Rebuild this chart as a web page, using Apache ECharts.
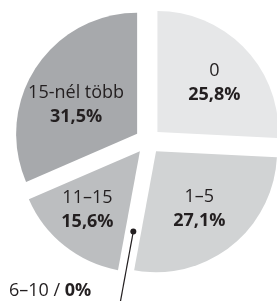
<!DOCTYPE html>
<html>
<head>
<meta charset="utf-8">
<script src="https://cdn.jsdelivr.net/npm/echarts@6/dist/echarts.min.js"></script>
<style>
html, body { margin: 0; padding: 0; background: #fff; }
#chart { width: 277px; height: 301px; }
</style>
</head>
<body>
<div id="chart"></div>
<script>
const categories = ['0', '1–5', '6–10', '11–15', '15-nél több'];
const shares = [25.8, 27.1, 0, 15.6, 31.5];
const sliceColors = ['#e6e7e8', '#d1d3d4', '#c8c9cb', '#bcbec0', '#a7a9ac'];

const center = [148, 141];
const pieRadius = 121;
const offset = 13;
const font = '"Open Sans", "Noto Sans", sans-serif';
const ink = '#231f20';
// small hand nudges of the inside labels (px), by slice
const labelNudge = [[4, 1], [-2, 0], [0, 0], [-7, 2], [0, 11]];

const fmt = v => (v === 0 ? '0' : v.toFixed(1).replace('.', ',')) + '%';

const chartDom = document.getElementById('chart');
const myChart = echarts.init(chartDom);

// the empty slice gets a leader line instead of an inside label
const zeroIdx = shares.findIndex(v => v === 0);
const total = shares.reduce((a, b) => a + b, 0);
const midShare = shares.slice(0, zeroIdx).reduce((a, b) => a + b, 0) + shares[zeroIdx] / 2;
const ang = midShare / total * 2 * Math.PI;
const px = r => center[0] + 2 + r * Math.sin(ang);
const py = r => center[1] - r * Math.cos(ang);

const textRich = {
  n: { fontFamily: font, fontSize: 18, lineHeight: 24, color: ink, fontWeight: 'normal' },
  v: { fontFamily: font, fontSize: 18, lineHeight: 24, color: ink, fontWeight: 'bold' }
};

const option = {
  animation: false,
  title: {
    text: '{n|' + categories[zeroIdx] + ' / }{v|' + fmt(shares[zeroIdx]) + '}',
    left: 9,
    top: 279,
    padding: 0,
    textStyle: { fontWeight: 'normal', rich: textRich }
  },
  graphic: [
    {
      type: 'line',
      shape: { x1: px(92), y1: py(92), x2: px(185), y2: py(185) },
      style: { stroke: ink, lineWidth: 1.2 }
    },
    {
      type: 'circle',
      shape: { cx: px(92), cy: py(92), r: 3 },
      style: { fill: ink }
    }
  ],
  series: [
    {
      type: 'pie',
      center: center,
      radius: pieRadius,
      startAngle: 90,
      clockwise: true,
      selectedMode: 'multiple',
      selectedOffset: offset,
      silent: true,
      label: { show: false },
      labelLine: { show: false },
      emphasis: { disabled: true },
      data: categories.map((name, i) => ({
        name: name,
        value: shares[i],
        selected: true,
        itemStyle: { color: sliceColors[i] },
        select: { itemStyle: { color: sliceColors[i] } }
      }))
    },
    {
      // label carrier: same slices, transparent, a bit wider so text sits further out
      type: 'pie',
      center: center,
      radius: 140,
      startAngle: 90,
      clockwise: true,
      selectedMode: 'multiple',
      selectedOffset: offset,
      silent: true,
      avoidLabelOverlap: false,
      emphasis: { disabled: true },
      label: {
        position: 'inside',
        formatter: p => '{n|' + p.name + '}\n{v|' + fmt(p.value) + '}',
        rich: textRich
      },
      labelLayout: p => ({ dx: labelNudge[p.dataIndex][0], dy: labelNudge[p.dataIndex][1] }),
      labelLine: { show: false },
      data: categories.map((name, i) => ({
        name: name,
        value: shares[i],
        selected: true,
        label: { show: shares[i] > 0 },
        itemStyle: { color: 'rgba(0,0,0,0)' },
        select: { itemStyle: { color: 'rgba(0,0,0,0)' } }
      }))
    }
  ]
};

option && myChart.setOption(option);
window.addEventListener('resize', function () {
  myChart.resize();
});
</script>
</body>
</html>
